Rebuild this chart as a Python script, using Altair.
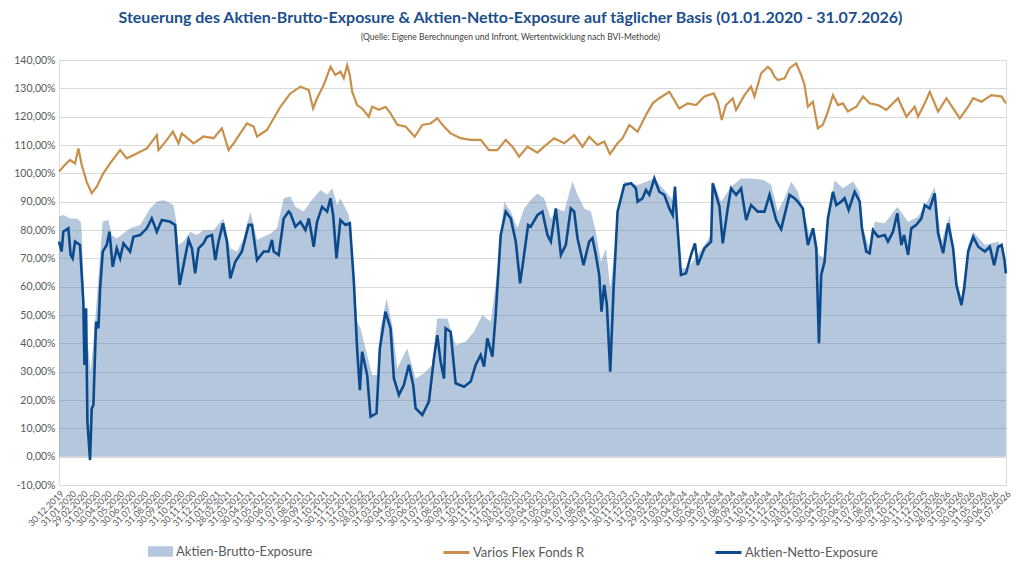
import calendar
import numpy as np
import pandas as pd
import altair as alt

# ---- data (time in months since 30.12.2019, values in %) ----
t_brutto = [0.00, 0.36, 0.92, 1.48, 1.81, 1.89, 2.17, 2.45, 2.65, 3.01, 3.43, 3.65, 4.12, 4.40, 4.82,
            5.93, 6.77, 7.60, 8.16, 8.72, 9.55, 9.78, 9.97, 10.39, 10.95, 11.50, 12.06, 12.90, 13.73,
            14.29, 14.85, 15.40, 15.96, 16.52, 17.63, 18.19, 18.75, 19.30, 19.72, 20.42, 20.98, 21.81,
            22.37, 22.79, 23.20, 23.48, 24.18, 24.46, 24.87, 25.15, 25.71, 26.13, 26.55, 26.82, 27.33,
            27.80, 28.22, 29.05, 29.75, 30.45, 31.14, 31.56, 32.40, 33.09, 33.93, 34.62, 35.32, 36.02,
            36.57, 37.13, 37.69, 38.25, 38.80, 39.36, 39.92, 40.47, 41.03, 41.59, 42.15, 42.84, 43.26,
            43.82, 44.37, 44.79, 45.21, 45.63, 45.99, 46.32, 46.66, 47.16, 48.27, 49.67, 50.50, 51.34,
            51.89, 52.45, 53.29, 54.40, 54.54, 54.68, 55.24, 56.07, 56.91, 57.74, 58.86, 59.42, 59.97,
            60.53, 61.09, 61.64, 62.20, 62.62, 63.04, 63.40, 63.87, 64.29, 64.71, 65.40, 66.24, 66.80,
            67.08, 67.63, 68.05, 68.89, 69.94, 70.84, 71.67, 72.37, 73.06, 73.62, 74.32, 74.87, 75.29,
            75.85, 76.27, 77.24, 78.36, 79.00]
v_brutto = [84.7, 85.3, 84.1, 84.1, 82.9, 79.4, 47.6, 38.0, 30.0, 47.6, 71.0, 83.0, 83.5, 78.2, 77.0,
            80.6, 81.8, 87.6, 90.0, 90.6, 88.8, 83.0, 74.7, 75.9, 79.4, 78.2, 80.0, 80.0, 84.1,
            73.5, 72.4, 77.0, 86.5, 76.5, 78.8, 80.6, 91.2, 91.8, 88.2, 86.5, 90.0, 94.1,
            92.4, 94.7, 88.8, 91.2, 85.3, 71.2, 47.6, 45.3, 35.9, 28.8, 28.8, 45.3, 55.9,
            46.5, 31.2, 38.2, 27.6, 29.4, 32.4, 48.8, 48.8, 39.4, 40.6, 44.1, 50.0, 47.6,
            65.3, 90.0, 86.5, 80.6, 87.6, 90.6, 92.9, 91.2, 84.1, 87.6, 86.5, 97.1, 92.4,
            87.6, 86.5, 79.4, 68.8, 73.5, 59.4, 71.2, 88.8, 97.1, 95.9, 98.2, 94.1, 90.0,
            66.5, 66.5, 71.2, 78.2, 97.0, 96.5, 90.0, 95.3, 98.2, 98.2, 97.6, 95.9, 86.5,
            91.2, 97.1, 93.5, 85.3, 78.2, 80.6, 71.2, 70.0, 87.6, 97.6, 94.7, 97.1, 93.5,
            80.6, 73.5, 82.9, 82.4, 88.2, 82.9, 84.7, 89.4, 95.3, 75.9, 85.3, 62.9, 55.9,
            74.7, 79.4, 74.7, 75.9, 68.8]

t_varios = [0.00, 0.50, 0.92, 1.34, 1.62, 1.89, 2.31, 2.73, 3.15, 3.70, 4.26, 5.10, 5.65, 6.49, 7.33,
            8.16, 8.30, 9.00, 9.50, 9.97, 10.25, 11.23, 12.06, 12.90, 13.59, 14.15, 14.57, 15.68, 16.24,
            16.52, 17.35, 18.47, 19.30, 20.14, 20.84, 21.20, 21.53, 22.09, 22.65, 23.06, 23.48, 23.76,
            24.04, 24.26, 24.46, 24.87, 25.29, 25.85, 26.13, 26.69, 27.24, 27.66, 28.22, 28.91, 29.67,
            30.31, 31.00, 31.56, 32.12, 32.67, 33.51, 34.35, 35.18, 35.88, 36.57, 37.27, 37.83, 38.38,
            39.08, 39.92, 40.47, 41.31, 42.15, 42.98, 43.68, 44.23, 44.93, 45.49, 45.96, 46.60, 47.02,
            47.58, 48.27, 48.97, 49.53, 50.08, 50.92, 51.75, 52.45, 53.15, 53.84, 54.62, 54.96, 55.29,
            55.65, 56.21, 56.49, 57.19, 57.74, 58.02, 58.58, 59.14, 59.42, 59.69, 59.97, 60.53, 60.95,
            61.50, 61.92, 62.20, 62.48, 62.90, 63.31, 63.73, 64.15, 64.57, 64.99, 65.40, 65.82, 66.52,
            67.08, 67.63, 68.33, 69.03, 70.00, 70.70, 71.39, 71.67, 72.23, 72.65, 73.34, 74.04, 74.60,
            75.15, 75.85, 76.27, 76.96, 77.80, 78.64, 79.00]
v_varios = [100.6, 103.0, 104.7, 103.5, 108.8, 103.0, 97.0, 93.0, 95.3, 100.0, 103.5, 108.2, 105.3, 107.0, 108.8,
            113.5, 108.2, 111.8, 114.7, 110.6, 114.1, 110.6, 113.0, 112.4, 115.9, 108.2, 110.6, 117.6, 116.5,
            113.0, 115.3, 123.5, 128.2, 130.6, 129.4, 122.9, 126.5, 131.2, 137.6, 134.7, 135.9, 133.5,
            138.2, 134.7, 128.8, 124.1, 122.9, 120.0, 123.5, 122.4, 123.5, 121.2, 117.1, 116.5, 112.9,
            117.1, 117.6, 119.4, 116.5, 114.1, 112.4, 111.8, 111.8, 108.2, 108.2, 111.8, 109.4, 105.9,
            109.4, 107.3, 109.4, 112.4, 110.6, 113.5, 109.4, 112.9, 110.0, 111.2, 106.8, 110.6, 112.4,
            117.1, 114.7, 120.6, 124.7, 126.5, 128.8, 122.9, 124.7, 124.1, 127.1, 128.2, 125.3, 118.8,
            124.1, 126.5, 122.4, 127.6, 130.6, 127.1, 135.3, 137.6, 136.5, 134.1, 132.9, 133.5, 137.1,
            138.8, 134.7, 131.2, 123.5, 125.3, 115.9, 117.1, 121.8, 127.6, 124.1, 124.7, 121.8, 123.5,
            127.1, 124.7, 124.1, 122.4, 126.5, 120.0, 123.5, 120.0, 124.7, 128.8, 121.8, 126.5, 122.9,
            119.4, 123.5, 126.5, 125.3, 127.6, 127.1, 124.7]

t_netto = [0.00, 0.22, 0.36, 0.78, 0.97, 1.14, 1.34, 1.75, 2.03, 2.12, 2.26, 2.37, 2.59, 2.73, 2.87,
           3.09, 3.29, 3.43, 3.65, 3.98, 4.21, 4.48, 4.82, 5.10, 5.38, 5.93, 6.21, 6.77, 7.33, 7.74,
           8.16, 8.58, 9.28, 9.69, 9.83, 10.06, 10.39, 10.81, 11.09, 11.36, 11.64, 12.06, 12.34, 12.76,
           13.04, 13.31, 13.68, 14.01, 14.29, 14.71, 15.26, 15.82, 16.10, 16.52, 17.08, 17.49, 17.77,
           17.91, 18.33, 18.75, 19.16, 19.30, 19.72, 20.14, 20.56, 20.84, 21.25, 21.53, 21.95, 22.37,
           22.65, 22.87, 23.15, 23.48, 23.90, 24.26, 24.60, 24.87, 25.10, 25.29, 25.71, 25.99, 26.49,
           26.77, 27.24, 27.66, 27.94, 28.36, 28.77, 29.19, 29.55, 29.75, 30.31, 30.86, 31.28, 31.56,
           31.84, 32.12, 32.26, 32.67, 33.09, 33.79, 34.35, 34.76, 35.18, 35.46, 35.74, 36.16, 36.43,
           36.85, 37.27, 37.69, 38.11, 38.47, 38.80, 39.14, 39.36, 39.92, 40.33, 40.75, 41.03, 41.45,
           41.87, 42.28, 42.70, 42.98, 43.26, 43.76, 44.23, 44.51, 44.79, 45.07, 45.26, 45.49, 45.71,
           45.99, 46.27, 46.60, 47.16, 47.72, 48.13, 48.27, 48.69, 48.97, 49.25, 49.67, 50.08, 50.50,
           50.92, 51.20, 51.39, 51.53, 51.89, 52.31, 52.73, 53.06, 53.29, 53.84, 54.40, 54.54, 54.82,
           55.10, 55.38, 55.79, 56.07, 56.49, 56.91, 57.33, 57.74, 58.30, 58.86, 59.28, 59.83, 60.25,
           60.81, 60.95, 61.36, 61.64, 62.06, 62.48, 62.90, 63.18, 63.40, 63.59, 63.87, 64.15, 64.57,
           64.85, 65.26, 65.54, 65.88, 66.38, 66.80, 66.99, 67.35, 67.63, 67.91, 68.33, 68.89, 69.16,
           69.58, 69.94, 70.28, 70.50, 70.84, 71.11, 71.53, 71.95, 72.23, 72.65, 73.06, 73.34, 73.76,
           74.18, 74.60, 74.87, 75.29, 75.52, 75.85, 76.27, 76.69, 77.24, 77.66, 78.02, 78.36, 78.64,
           78.86, 79.00]
v_netto = [75.9, 72.4, 79.4, 80.6, 71.2, 70.0, 75.9, 74.7, 54.7, 32.4, 52.4, 12.4, -1.2, 17.0, 18.2,
           47.6, 45.3, 59.4, 72.4, 74.7, 79.4, 67.0, 73.5, 70.0, 75.3, 72.4, 77.6, 78.2, 80.6, 84.1,
           79.4, 83.5, 82.9, 81.8, 73.5, 60.6, 67.6, 76.5, 73.5, 64.7, 73.5, 75.3, 77.6, 78.2,
           69.4, 75.9, 82.4, 75.9, 62.9, 68.8, 72.4, 81.8, 81.8, 69.4, 72.4, 72.4, 76.5,
           72.4, 71.2, 84.1, 86.5, 85.9, 81.2, 82.9, 80.0, 84.1, 74.1, 82.9, 88.2, 86.5,
           91.2, 85.3, 70.0, 83.5, 81.8, 82.4, 61.8, 38.2, 23.5, 37.0, 28.8, 14.1, 15.3,
           38.2, 51.2, 45.3, 27.6, 21.8, 25.3, 32.4, 25.3, 17.1, 14.7, 19.4, 34.7, 42.9,
           33.5, 27.6, 45.3, 44.1, 25.9, 24.7, 26.5, 32.4, 35.9, 31.8, 41.8, 35.3, 50.0,
           78.2, 86.5, 84.1, 75.9, 61.2, 71.2, 81.8, 81.2, 85.3, 86.5, 78.2, 75.9, 87.6,
           71.2, 74.7, 87.6, 86.5, 77.1, 67.6, 75.9, 77.1, 71.2, 64.1, 51.2, 60.6, 53.5,
           30.0, 59.4, 86.5, 95.9, 96.5, 94.7, 90.0, 91.2, 94.1, 92.4, 98.2, 93.5, 92.4,
           87.6, 85.3, 95.3, 85.3, 64.1, 64.7, 71.2, 75.3, 67.6, 73.5, 75.9, 96.5, 92.4,
           88.2, 75.3, 87.6, 94.7, 92.4, 94.7, 83.5, 88.8, 86.5, 86.5, 92.4, 83.5, 80.3,
           90.0, 92.4, 91.2, 90.0, 87.6, 74.7, 80.6, 73.5, 40.0, 64.1, 68.8, 84.1, 93.5,
           88.8, 90.0, 91.2, 87.1, 93.5, 90.0, 80.6, 72.4, 71.8, 80.0, 77.6, 78.2, 75.9,
           79.4, 85.9, 74.7, 78.2, 71.2, 80.6, 81.8, 84.1, 88.8, 87.6, 92.9, 78.8, 71.8,
           82.4, 73.5, 60.6, 53.5, 59.4, 72.4, 77.6, 74.1, 72.4, 74.1, 67.6, 74.1, 74.7,
           70.0, 64.7]

names = ["Aktien-Brutto-Exposure", "Varios Flex Fonds R", "Aktien-Netto-Exposure"]
colors = ["#4c7aac", "#c8904a", "#0b4a8c"]

START = pd.Timestamp("2019-12-30")
DAYS_PER_MONTH = 30.44


def frame(t, v, name):
    d = START + pd.to_timedelta(np.array(t) * DAYS_PER_MONTH, unit="D")
    return pd.DataFrame({"date": d.strftime("%Y-%m-%dT%H:%M:%S"), "value": v, "series": name})


df_b = frame(t_brutto, v_brutto, names[0])
df_v = frame(t_varios, v_varios, names[1])
df_n = frame(t_netto, v_netto, names[2])

# tick labels: 30.12.2019 and every month end up to 31.07.2026
tick_dates = [(2019, 12, 30)]
for y in range(2020, 2027):
    for m in range(1, 13):
        if y == 2026 and m > 7:
            break
        tick_dates.append((y, m, calendar.monthrange(y, m)[1]))
tick_values = [alt.DateTime(year=y, month=m, date=d) for (y, m, d) in tick_dates]

y_ticks = list(range(-10, 141, 10))

x_axis = alt.Axis(values=tick_values, format="%d.%m.%Y", labelAngle=-45, labelOverlap=False,
                  labelFontSize=9, labelFont="Lato", labelColor="#595959", labelPadding=4,
                  grid=False, ticks=False, domain=False, title=None, labelBound=False,
                  labelFlush=False)
x_scale = alt.Scale(domain=[alt.DateTime(year=2019, month=12, date=30),
                            alt.DateTime(year=2026, month=7, date=31)], nice=False)
y_scale = alt.Scale(domain=[-10, 140], nice=False, zero=False)
y_axis = alt.Axis(values=y_ticks, labelOverlap=False,
                  labelExpr="replace(replace(format(datum.value, '.2f'), '.', ','), '\u2212', '-') + '%'",
                  labelFontSize=10.5, labelFont="Lato", labelColor="#595959", labelPadding=4,
                  grid=True, gridColor="#d9d9d9", gridWidth=1, ticks=False, domain=False, title=None)


def xe():
    return alt.X("date:T", scale=x_scale, axis=x_axis)


def ye():
    return alt.Y("value:Q", scale=y_scale, axis=y_axis)


legend_common = dict(orient="none", direction="horizontal", title=None, labelFont="Lato",
                     labelFontSize=13, labelColor="#595959", labelOffset=2, padding=0)
LEG_Y = 478

area = alt.Chart(df_b).mark_area(opacity=0.42, interpolate="linear").encode(
    x=xe(),
    y=ye(),
    y2=alt.datum(0),
    fill=alt.Fill("series:N", scale=alt.Scale(domain=[names[0]], range=[colors[0]]),
                  legend=alt.Legend(legendX=88, legendY=LEG_Y, symbolType="M-1,-0.42H1V0.42H-1Z",
                                    symbolSize=625, symbolOpacity=0.42, **legend_common)),
)

gold = alt.Chart(df_v).mark_line(strokeWidth=2.2).encode(
    x=xe(),
    y=ye(),
    stroke=alt.Stroke("series:N", scale=alt.Scale(domain=[names[1]], range=[colors[1]]),
                      legend=alt.Legend(legendX=383, legendY=LEG_Y, symbolType="stroke",
                                        symbolSize=676, symbolStrokeWidth=3, **legend_common)),
)

netto = alt.Chart(df_n).mark_line(strokeWidth=2.6).encode(
    x=xe(),
    y=ye(),
    color=alt.Color("series:N", scale=alt.Scale(domain=[names[2]], range=[colors[2]]),
                    legend=alt.Legend(legendX=655, legendY=LEG_Y, symbolType="stroke",
                                      symbolSize=676, symbolStrokeWidth=3, **legend_common)),
)

chart = alt.layer(area, gold, netto).resolve_scale(
    fill="independent", stroke="independent", color="independent"
).properties(
    width=947,
    height=425,
    title=alt.TitleParams(
        text="Steuerung des Aktien-Brutto-Exposure & Aktien-Netto-Exposure auf täglicher Basis (01.01.2020 - 31.07.2026)",
        subtitle="(Quelle: Eigene Berechnungen und Infront, Wertentwicklung nach BVI-Methode)",
        anchor="middle", dx=-22, font="Lato", fontSize=16, fontWeight="bold", color="#1c4f8c",
        subtitleFont="Lato", subtitleFontSize=8.5, subtitleColor="#404040", subtitlePadding=7,
        offset=14,
    ),
    autosize=alt.AutoSizeParams(type="none"),
    padding={"left": 51, "top": 52, "right": 10, "bottom": 79},
).configure_view(stroke=None).configure(background="white")

chart.save("out.html", embed_options={"renderer": "svg", "actions": False})
